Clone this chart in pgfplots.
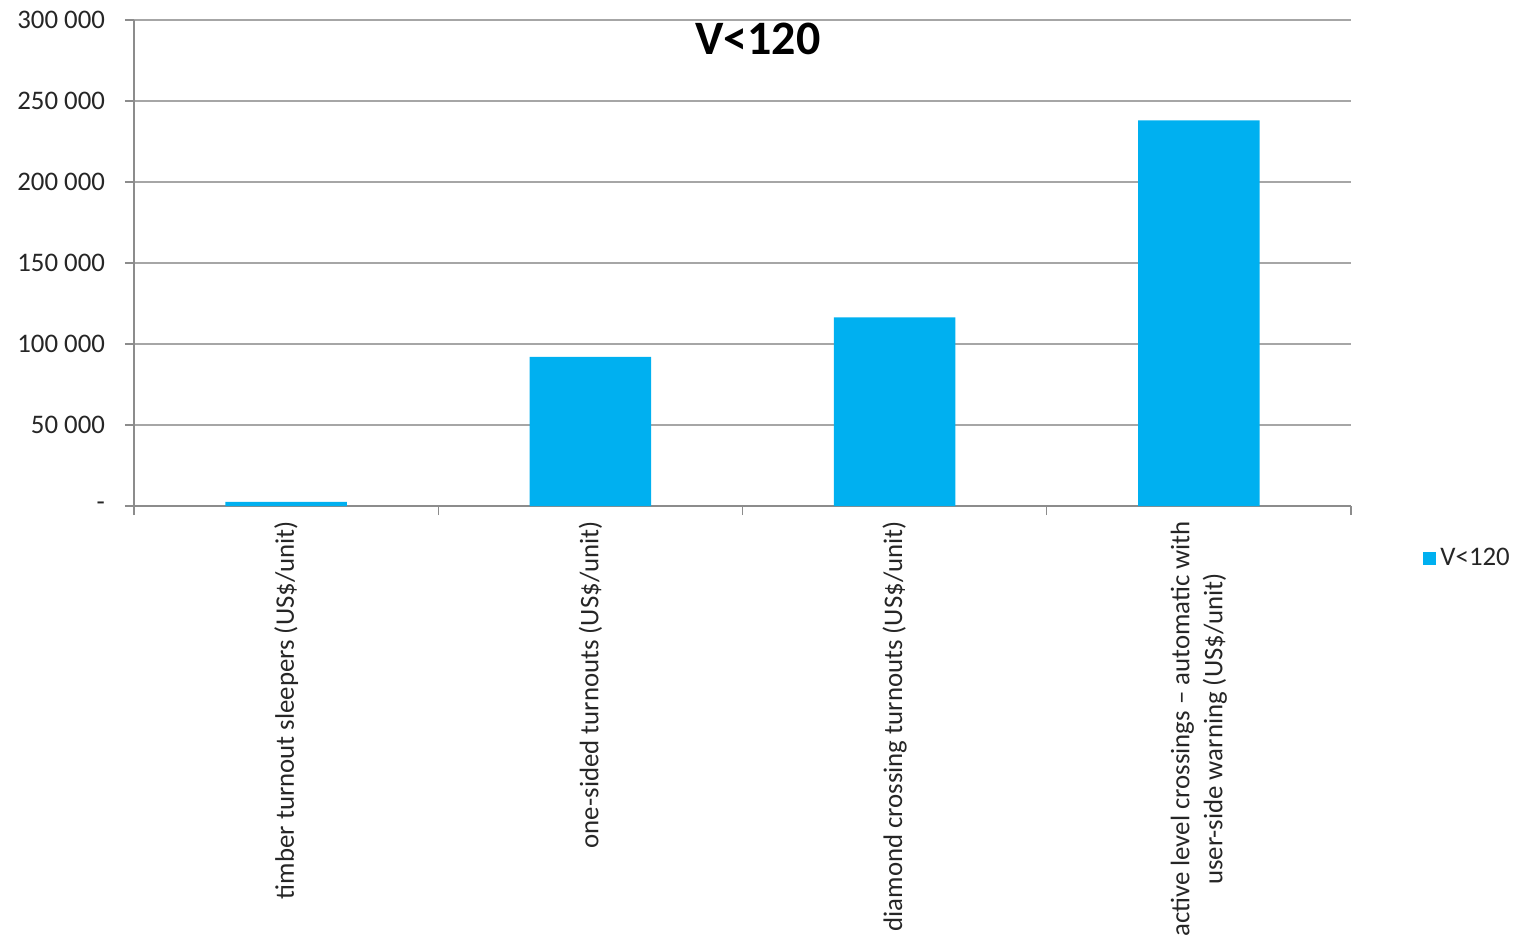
\documentclass[border=0pt]{standalone}
\usepackage{pgfplots}
\pgfplotsset{compat=1.18}
\usepackage{fontspec}
\setmainfont{Carlito}
\definecolor{barblue}{HTML}{00B0F0}
\definecolor{gridgray}{HTML}{A6A6A6}
\definecolor{axisgray}{HTML}{8C8C8C}
\definecolor{txt}{HTML}{262626}
\begin{document}
\begin{tikzpicture}
\begin{axis}[
  at={(0,0)}, anchor=south west,
  scale only axis, width=608.5pt, height=243pt,
  ybar, bar width=0.4,
  xmin=-0.5, xmax=3.5, ymin=0, ymax=300000,
  scaled y ticks=false,
  axis x line*=bottom, axis y line*=left,
  axis line style={-, axisgray, line width=0.6pt},
  every tick/.style={axisgray, line width=0.6pt},
  tick align=outside,
  major tick length=4.5pt,
  ytick={0,50000,100000,150000,200000,250000,300000},
  yticklabels={-,50 000,100 000,150 000,200 000,250 000,300 000},
  yticklabel style={xshift=-6.5pt},
  ymajorgrids, grid style={gridgray, line width=0.6pt},
  xtick={-0.5,0.5,1.5,2.5,3.5},
  xticklabels={},
  extra x ticks={0,1,2,3},
  extra x tick labels={timber turnout sleepers (US\$/unit),one-sided turnouts (US\$/unit),diamond crossing turnouts (US\$/unit),{active level crossings – automatic with\\user-side warning (US\$/unit)}},
  extra x tick style={major tick length=0pt, tick label style={rotate=90, anchor=east, align=center, xshift=-4pt}},
  every tick label/.append style={font=\fontsize{13.4}{16.5}\selectfont, text=txt},
  title={V<120},
  title style={at={(0.5127,0.936)}, anchor=center, font=\bfseries\fontsize{24}{28}\selectfont, text=black},
  legend entries={V<120},
  legend style={at={(1.0592,-0.107)}, anchor=west, draw=none, fill=none, inner sep=0pt, font=\fontsize{13.4}{16.5}\selectfont, text=txt},
  legend image code/.code={\fill[barblue] (-1.5pt,-3.25pt) rectangle (5pt,3.25pt);},
]
\addplot[fill=barblue, draw=none] coordinates {(0,2500) (1,92000) (2,116500) (3,238000)};
\end{axis}
\pgfresetboundingbox
\path[use as bounding box] (-67pt,-217.5pt) rectangle (690pt,253pt);
\end{tikzpicture}
\end{document}
